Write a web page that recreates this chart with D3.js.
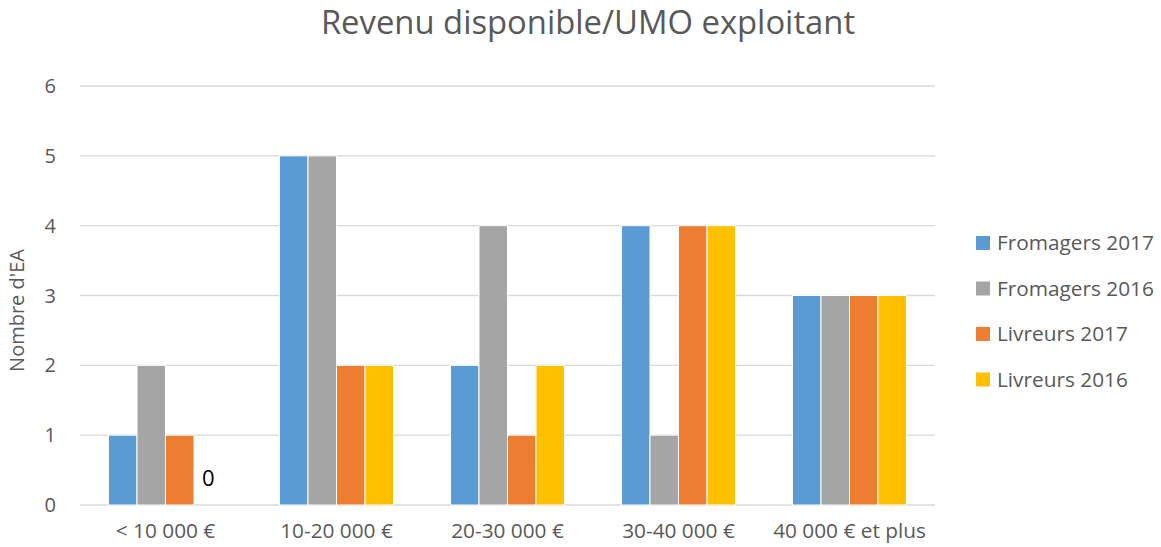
<!DOCTYPE html>
<html>
<head>
<meta charset="utf-8">
<script src="https://cdn.jsdelivr.net/npm/d3@7"></script>
<style>
  body { margin: 0; background: #fff; }
  text { font-family: "Open Sans", Lato, sans-serif; }
</style>
</head>
<body>
<script>
const categories = ["< 10 000 €", "10-20 000 €", "20-30 000 €", "30-40 000 €", "40 000 € et plus"];
const seriesNames = ["Fromagers 2017", "Fromagers 2016", "Livreurs 2017", "Livreurs 2016"];
const colors = ["#5B9BD5", "#A5A5A5", "#ED7D31", "#FFC000"];
const fromagers2017 = [1, 5, 2, 4, 3];
const fromagers2016 = [2, 5, 4, 1, 3];
const livreurs2017 = [1, 2, 1, 4, 3];
const livreurs2016 = [0, 2, 2, 4, 3];
const yTicks = [0, 1, 2, 3, 4, 5, 6];

const values = [fromagers2017, fromagers2016, livreurs2017, livreurs2016];

const width = 1161;
const height = 547;
const margin = {top: 86, right: 226, bottom: 42, left: 80};

const svg = d3.select("body").append("svg")
  .attr("width", width)
  .attr("height", height);

const x = d3.scaleBand()
  .domain(categories)
  .range([margin.left, width - margin.right]);

const xInner = d3.scaleBand()
  .domain(seriesNames)
  .range([0, x.bandwidth()])
  .paddingOuter(1)
  .paddingInner(0);

const y = d3.scaleLinear()
  .domain([0, 6])
  .range([height - margin.bottom, margin.top]);

// gridlines
svg.append("g")
  .selectAll("line")
  .data(yTicks)
  .join("line")
  .attr("x1", margin.left)
  .attr("x2", width - margin.right)
  .attr("y1", d => y(d))
  .attr("y2", d => y(d))
  .attr("stroke", "#d9d9d9")
  .attr("stroke-width", 1.3);

// y tick labels
svg.append("g")
  .selectAll("text")
  .data(yTicks)
  .join("text")
  .attr("x", 56)
  .attr("y", d => y(d))
  .attr("dy", "0.35em")
  .attr("text-anchor", "end")
  .attr("font-size", 20)
  .attr("fill", "#595959")
  .text(d => d);

// bars
seriesNames.forEach((name, i) => {
  svg.append("g")
    .selectAll("rect")
    .data(categories)
    .join("rect")
    .attr("x", c => x(c) + xInner(name))
    .attr("y", (c, j) => y(values[i][j]))
    .attr("width", xInner.bandwidth())
    .attr("height", (c, j) => y(0) - y(values[i][j]))
    .attr("fill", colors[i])
    .attr("stroke", "#fff")
    .attr("stroke-width", 1);
});

// zero label for Livreurs 2016 in first category
livreurs2016.forEach((v, j) => {
  if (v === 0) {
    svg.append("text")
      .attr("x", x(categories[j]) + xInner("Livreurs 2016") + xInner.bandwidth() / 2)
      .attr("y", y(0) - 19)
      .attr("text-anchor", "middle")
      .attr("font-size", 22)
      .attr("fill", "#000")
      .text(v);
  }
});

// x labels
svg.append("g")
  .selectAll("text")
  .data(categories)
  .join("text")
  .attr("x", d => x(d) + x.bandwidth() / 2)
  .attr("y", height - 9)
  .attr("text-anchor", "middle")
  .attr("font-size", 20.8)
  .attr("fill", "#595959")
  .text(d => d);

// y axis title
svg.append("text")
  .attr("transform", `translate(24, ${(y(0) + y(6)) / 2 + 15}) rotate(-90)`)
  .attr("text-anchor", "middle")
  .attr("font-size", 20)
  .attr("fill", "#595959")
  .text("Nombre d'EA");

// title
svg.append("text")
  .attr("x", 588)
  .attr("y", 34)
  .attr("text-anchor", "middle")
  .attr("font-size", 32.8)
  .attr("fill", "#595959")
  .text("Revenu disponible/UMO exploitant");

// legend
const legend = svg.append("g")
  .selectAll("g")
  .data(seriesNames)
  .join("g")
  .attr("transform", (d, i) => `translate(976, ${243 + i * 45.5})`);

legend.append("rect")
  .attr("x", 0)
  .attr("y", -7)
  .attr("width", 14)
  .attr("height", 14)
  .attr("fill", (d, i) => colors[i]);

legend.append("text")
  .attr("x", 21)
  .attr("dy", "0.35em")
  .attr("font-size", 20.8)
  .attr("fill", "#595959")
  .text(d => d);
</script>
</body>
</html>
